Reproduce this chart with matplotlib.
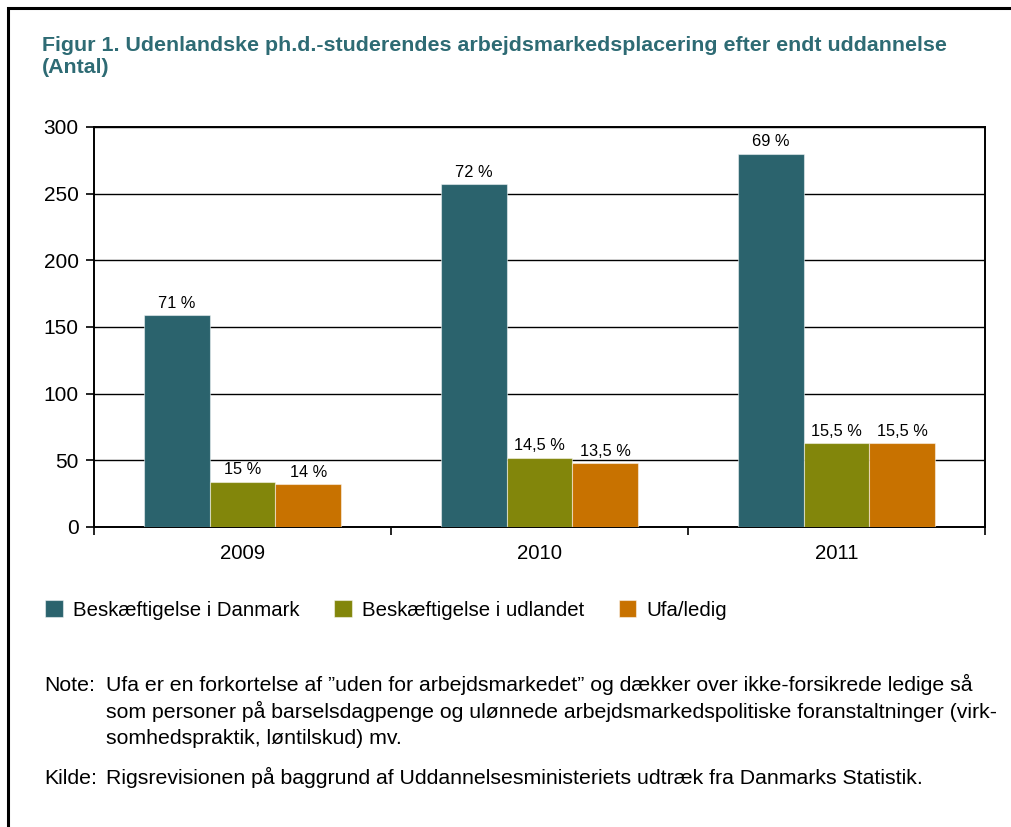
import numpy as np
import matplotlib
matplotlib.use("Agg")
import matplotlib.pyplot as plt
from matplotlib.patches import Rectangle

plt.rcParams['font.family'] = ['Liberation Sans', 'DejaVu Sans']

years = ['2009', '2010', '2011']
series = ['Beskæftigelse i Danmark', 'Beskæftigelse i udlandet', 'Ufa/ledig']
danmark = [159, 257, 280]
udlandet = [34, 52, 63]
ufa = [32, 48, 63]
pct_danmark = ['71 %', '72 %', '69 %']
pct_udlandet = ['15 %', '14,5 %', '15,5 %']
pct_ufa = ['14 %', '13,5 %', '15,5 %']
colors = ['#2b636d', '#82860b', '#c87200']

title = ('Figur 1. Udenlandske ph.d.-studerendes arbejdsmarkedsplacering efter endt uddannelse\n'
         '(Antal)')
note = ['Ufa er en forkortelse af \u201duden for arbejdsmarkedet\u201d og dækker over ikke-forsikrede ledige så',
        'som personer på barselsdagpenge og ulønnede arbejdsmarkedspolitiske foranstaltninger (virk-',
        'somhedspraktik, løntilskud) mv.']
kilde = 'Rigsrevisionen på baggrund af Uddannelsesministeriets udtræk fra Danmarks Statistik.'

fig = plt.figure(figsize=(10.12, 8.27), dpi=100)
W, H = 1012, 827
ax = fig.add_axes([94 / W, 1 - 527 / H, 891 / W, 400 / H])

x = np.arange(len(years))
w = 0.222
vals = [danmark, udlandet, ufa]
pcts = [pct_danmark, pct_udlandet, pct_ufa]
for i in range(3):
    bars = ax.bar(x + (i - 1) * w, vals[i], w, color=colors[i], label=series[i],
                  edgecolor=(1, 1, 1, 0.5), linewidth=0.8, zorder=3)
    ax.bar_label(bars, labels=pcts[i], padding=3, fontsize=11.8, zorder=4)

ax.set_xlim(-0.5, 2.5)
ax.set_ylim(0, 300)
ax.set_yticks(range(0, 301, 50))
ax.set_xticks(np.arange(-0.5, 2.6, 1))
ax.set_xticklabels([])
ax.set_xticks(x, minor=True)
ax.set_xticklabels(years, minor=True)
ax.tick_params(axis='x', which='minor', length=0, pad=12, labelsize=14.7)
ax.tick_params(axis='x', which='major', length=6, width=1.2, direction='out')
ax.tick_params(axis='y', length=6, width=1.2, labelsize=15, pad=5)
ax.grid(axis='y', color='black', linewidth=1.0, zorder=0)
for s in ax.spines.values():
    s.set_linewidth(1.4)
    s.set_color('black')

fig.text(42 / W, 1 - 36 / H, title, fontsize=15.4, fontweight='bold', color='#2e6b74',
         va='top', ha='left', linespacing=1.2)

leg = fig.legend(loc='center left', bbox_to_anchor=(27 / W, 1 - 610 / H), ncol=3,
                 frameon=False, fontsize=14.7, handlelength=0.85, handleheight=0.9,
                 handletextpad=0.5, columnspacing=1.7)

fs = 15.3
fig.text(44 / W, 1 - 691 / H, 'Note:', fontsize=fs, va='baseline', ha='left')
for k, line in enumerate(note):
    fig.text(106 / W, 1 - (691 + k * 26.5) / H, line, fontsize=fs, va='baseline', ha='left')
fig.text(44 / W, 1 - 784 / H, 'Kilde:', fontsize=fs, va='baseline', ha='left')
fig.text(106 / W, 1 - 784 / H, kilde, fontsize=fs, va='baseline', ha='left')

fig.add_artist(Rectangle((8 / W, -0.1), 1.2, 1.1 - 8 / H, transform=fig.transFigure,
                         fill=False, edgecolor='black', linewidth=2.2))

fig.savefig('out.png', dpi=100)
